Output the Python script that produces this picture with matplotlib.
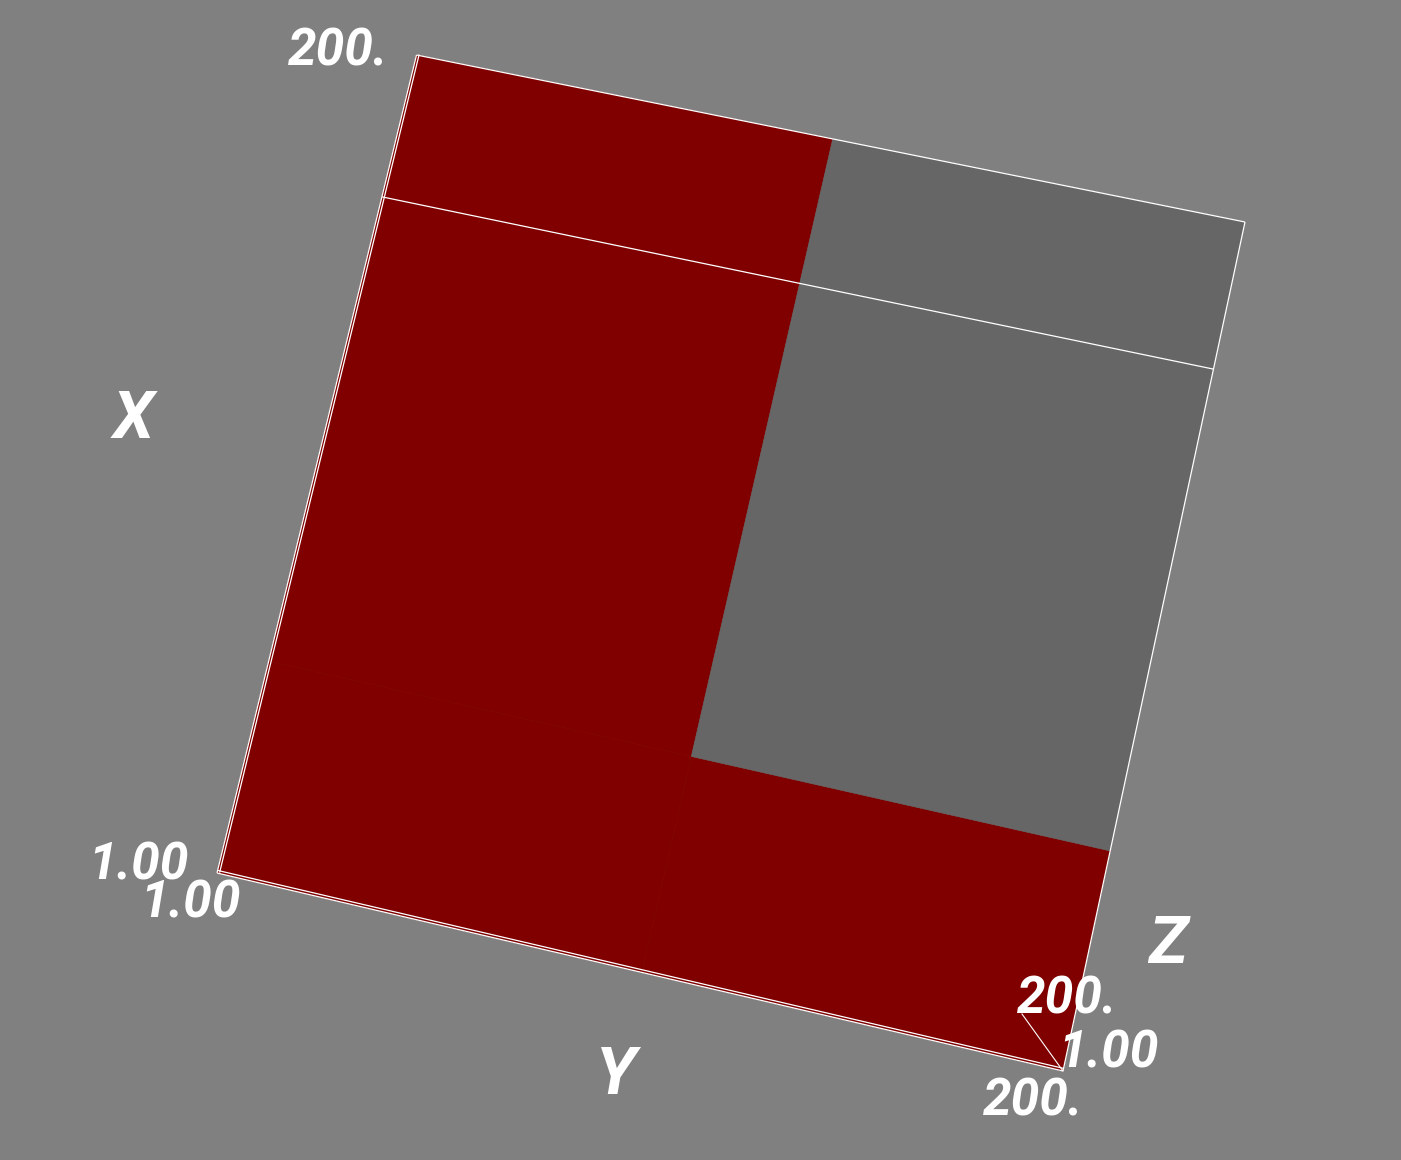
import numpy as np
import matplotlib
matplotlib.use("Agg")
import matplotlib.pyplot as plt

# Data: slice through a 1..200 volume (in X, Y index space)
x_edges = [1, 51.5, 164.7, 200]
y_edges = [1, 102.5, 200]
# cell state per x-band (rows) and y-band (columns): 1 = red, 0 = grey
cells = [[1, 1],
         [1, 0],
         [1, 0]]
x_range = [1, 200]
y_range = [1, 200]
band_x = 164.7
tick_labels = ["1.00", "200."]
axis_names = ["X", "Y", "Z"]

BG = "#808080"
RED = "#800000"
GREY = "#666666"

# View: where the slice plane's four corners land in image pixels
src = np.array([(1, 1), (200, 1), (200, 200), (1, 200)], float)
dst = np.array([(217, 873), (416.5, 55), (1245, 222), (1063, 1071)], float)
A, b = [], []
for (u, v), (p, q) in zip(src, dst):
    A.append([u, v, 1, 0, 0, 0, -u * p, -v * p]); b.append(p)
    A.append([0, 0, 0, u, v, 1, -u * q, -v * q]); b.append(q)
H = np.append(np.linalg.solve(np.array(A), np.array(b)), 1).reshape(3, 3)


def project(xs, ys):
    pts = H @ np.vstack([xs, ys, np.ones(len(xs))])
    return pts[0] / pts[2], pts[1] / pts[2]


fig = plt.figure(figsize=(14.01, 11.60), dpi=100, facecolor=BG)
ax = fig.add_axes([0, 0, 1, 1])
ax.set_xlim(0, 1401)
ax.set_ylim(1160, 0)
ax.axis("off")

for i in range(len(x_edges) - 1):
    for j in range(len(y_edges) - 1):
        xa, xb = x_edges[i], x_edges[i + 1]
        ya, yb = y_edges[j], y_edges[j + 1]
        px, py = project([xa, xb, xb, xa], [ya, ya, yb, yb])
        col = RED if cells[i][j] else GREY
        ax.fill(px, py, facecolor=col, edgecolor=col, lw=0.4, zorder=1)


def edge(xs, ys, dx=0.0, dy=0.0):
    px, py = project(xs, ys)
    ax.plot(px + dx, py + dy, color="white", lw=0.9,
            solid_capstyle="butt", zorder=3)


# Outline, cut line and the doubled box edges
edge([x_range[1], x_range[1]], y_range)
edge(x_range, [y_range[1], y_range[1]])
edge([band_x, band_x], y_range)
edge(x_range, [y_range[0], y_range[0]])
edge(x_range, [y_range[0], y_range[0]], dx=2.6, dy=-0.4)
edge([x_range[0], x_range[0]], y_range)
edge([x_range[0], x_range[0]], y_range, dx=0.6, dy=-2.6)

# Z axis edge running into the volume
zx, zy = project([x_range[0]], [y_range[1]])
ax.plot([zx[0], zx[0] - 41], [zy[0], zy[0] - 57], color="white", lw=0.8, zorder=3)

font = dict(family=["Roboto", "DejaVu Sans"], style="italic", weight="bold",
            color="white", ha="left", va="baseline", zorder=4)
for s, x, y in [(tick_labels[1], 288, 65), (tick_labels[0], 88, 879),
                (tick_labels[0], 140, 918), (tick_labels[1], 1017, 1013),
                (tick_labels[0], 1058, 1067), (tick_labels[1], 983, 1116)]:
    ax.text(x, y, s, fontsize=37, **font)
for s, x, y in [(axis_names[0], 113, 438), (axis_names[1], 596, 1094),
                (axis_names[2], 1148, 963)]:
    ax.text(x, y, s, fontsize=48, **font)

fig.savefig("out.png", dpi=100, facecolor=BG)
